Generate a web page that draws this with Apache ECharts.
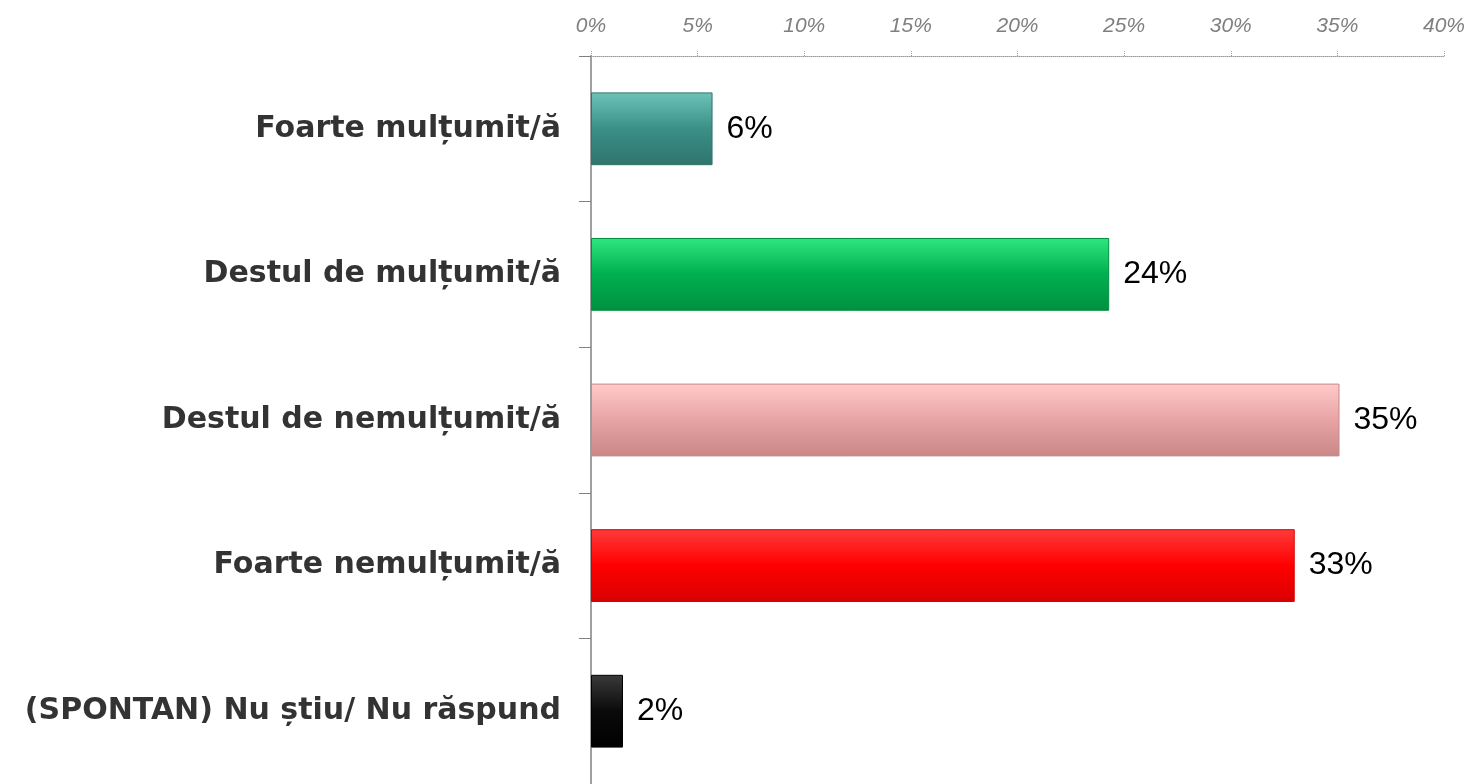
<!DOCTYPE html>
<html>
<head>
<meta charset="utf-8">
<script src="https://cdn.jsdelivr.net/npm/echarts@6/dist/echarts.min.js"></script>
<style>
  html, body { margin: 0; padding: 0; background: #fff; }
  #chart { width: 1472px; height: 784px; }
</style>
</head>
<body>
<div id="chart"></div>
<script>
// categorii si valori
const categories = ['Foarte mulțumit/ă', 'Destul de mulțumit/ă', 'Destul de nemulțumit/ă', 'Foarte nemulțumit/ă', '(SPONTAN) Nu știu/ Nu răspund']
const values = [5.7, 24.3, 35.1, 33.0, 1.5]
const barColors = [
  ['#6cc2b9', '#3b8f86', '#2f746d'],
  ['#2ee67e', '#00b050', '#009040'],
  ['#ffcaca', '#e8a4a4', '#c98787'],
  ['#ff3b3b', '#ff0000', '#d80000'],
  ['#3a3a3a', '#0a0a0a', '#000000']
]

const chart = echarts.init(document.getElementById('chart'))

function grad (c) {
  return new echarts.graphic.LinearGradient(0, 0, 0, 1, [
    { offset: 0, color: c[0] },
    { offset: 0.5, color: c[1] },
    { offset: 1, color: c[2] }
  ])
}

const option = {
  animation: false,
  grid: { left: 591, right: 28, top: 56, bottom: 0, containLabel: false },
  xAxis: {
    type: 'value',
    position: 'top',
    min: 0,
    max: 40,
    interval: 5,
    axisLine: { show: true, lineStyle: { color: '#9a9a9a', type: 'dotted', width: 1 } },
    axisTick: { show: true, length: 6, lineStyle: { color: '#9a9a9a', type: 'dotted' } },
    splitLine: { show: false },
    axisLabel: {
      formatter: '{value}%',
      color: '#7f7f7f',
      fontStyle: 'italic',
      fontSize: 21,
      fontFamily: '"Liberation Sans", sans-serif',
      margin: 19
    }
  },
  yAxis: {
    type: 'category',
    inverse: true,
    data: categories,
    axisLine: { show: true, lineStyle: { color: '#a0a0a0', width: 2 } },
    axisTick: { show: true, length: 12, lineStyle: { color: '#808080', width: 1 } },
    axisLabel: {
      color: '#333333',
      fontWeight: 'bold',
      fontSize: 30,
      fontFamily: '"DejaVu Sans", sans-serif',
      margin: 30
    }
  },
  series: [
    {
      type: 'bar',
      barWidth: '50%',
      data: values.map((v, i) => ({
        value: v,
        itemStyle: {
          color: grad(barColors[i]),
          borderColor: barColors[i][2],
          borderWidth: 1
        }
      })),
      label: {
        show: true,
        position: 'right',
        distance: 14,
        color: '#000',
        fontSize: 32,
        fontFamily: '"Liberation Sans", sans-serif',
        formatter: p => Math.round(p.value) + '%'
      }
    }
  ]
}

chart.setOption(option)
</script>
</body>
</html>
